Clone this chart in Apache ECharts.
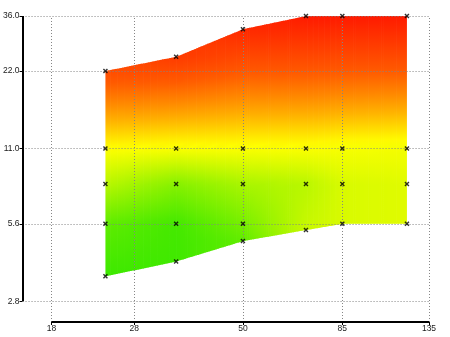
<!DOCTYPE html>
<html>
<head>
<meta charset="utf-8">
<script src="https://cdn.jsdelivr.net/npm/echarts@6/dist/echarts.min.js"></script>
<style>
  html, body { margin: 0; padding: 0; background: #fff; }
  #chart { width: 450px; height: 337px; }
</style>
</head>
<body>
<div id="chart"></div>
<script>
// Focal lengths (mm) at which the lens was measured
const focalLengths = [24, 35, 50, 70, 85, 120];
// Widest and narrowest aperture available at each focal length
const apertureMin = [3.5, 4.0, 4.8, 5.3, 5.6, 5.6];
const apertureMax = [22, 25, 32, 36, 36, 36];
// Score (0 = best, 1 = worst) at each measured stop; null = no reading
const scoreAtMin = [0.00, 0.01, 0.09, 0.36, 0.40, 0.42];
const scoreAt56 = [0.09, 0.02, 0.15, null, null, null];
const scoreAt8 = [0.32, 0.19, 0.28, 0.32, 0.40, 0.42];
const scoreAt11 = [0.50, 0.49, 0.49, 0.49, 0.48, 0.47];
const scoreAtMax = [0.83, 0.89, 0.95, 1.00, 1.00, 1.00];
// Axis tick labels
const focalTicks = [18, 28, 50, 85, 135];
const apertureTicks = [2.8, 5.6, 11.0, 22.0, 36.0];

// Axis extents, and where the detached axis lines sit
const X_MIN = 15, X_MAX = 135, X_AXIS_AT = 15.42;
const Y_MIN = 2.3, Y_MAX = 36, Y_AXIS_AT = 2.3257;

// Colour ramp for the score: green -> yellow -> orange -> red
const ramp = [
  [0.00, [60, 232, 0]],
  [0.50, [255, 255, 0]],
  [0.62, [255, 176, 0]],
  [0.69, [255, 136, 0]],
  [0.78, [255, 90, 0]],
  [1.00, [255, 26, 0]]
];
function scoreColor(v) {
  v = Math.max(0, Math.min(1, v));
  for (let k = 1; k < ramp.length; k++) {
    if (v <= ramp[k][0]) {
      const a = ramp[k - 1], b = ramp[k];
      const t = (v - a[0]) / (b[0] - a[0]);
      const c = a[1].map((ch, j) => Math.round(ch + (b[1][j] - ch) * t));
      return 'rgb(' + c.join(',') + ')';
    }
  }
  return 'rgb(' + ramp[ramp.length - 1][1].join(',') + ')';
}

// Measured points per focal length: [aperture, score]
const columns = focalLengths.map((f, i) => {
  const pts = [[apertureMin[i], scoreAtMin[i]]];
  if (scoreAt56[i] != null) pts.push([5.6, scoreAt56[i]]);
  pts.push([8, scoreAt8[i]], [11, scoreAt11[i]], [apertureMax[i], scoreAtMax[i]]);
  return pts;
});
const profiles = columns.map(pts => pts.map(p => [Math.log(p[0]), p[1]]));

// Score along one focal length, in log-aperture
function profileAt(p, la) {
  if (la <= p[0][0]) return p[0][1];
  for (let k = 1; k < p.length; k++) {
    if (la <= p[k][0]) {
      const t = (la - p[k - 1][0]) / (p[k][0] - p[k - 1][0]);
      return p[k - 1][1] + (p[k][1] - p[k - 1][1]) * t;
    }
  }
  return p[p.length - 1][1];
}

const lerp = (a, b, t) => a + (b - a) * t;

// Shaded band between two neighbouring focal lengths
function renderBand(params, api) {
  const i = params.dataIndex;
  const j = i + 1;
  const lx0 = Math.log(focalLengths[i]), lx1 = Math.log(focalLengths[j]);
  const lb0 = Math.log(apertureMin[i]), lb1 = Math.log(apertureMin[j]);
  const lt0 = Math.log(apertureMax[i]), lt1 = Math.log(apertureMax[j]);
  const strips = 30, stops = 32;
  const children = [];
  for (let k = 0; k < strips; k++) {
    const ua = k / strips, ub = (k + 1) / strips, um = (ua + ub) / 2;
    const pa0 = api.coord([Math.exp(lerp(lx0, lx1, ua)), Math.exp(lerp(lb0, lb1, ua))]);
    const pa1 = api.coord([Math.exp(lerp(lx0, lx1, ua)), Math.exp(lerp(lt0, lt1, ua))]);
    const pb0 = api.coord([Math.exp(lerp(lx0, lx1, ub)), Math.exp(lerp(lb0, lb1, ub))]);
    const pb1 = api.coord([Math.exp(lerp(lx0, lx1, ub)), Math.exp(lerp(lt0, lt1, ub))]);
    const last = (i === focalLengths.length - 2 && k === strips - 1);
    const ext = last ? 0 : 0.7;
    const mb = lerp(lb0, lb1, um), mt = lerp(lt0, lt1, um);
    const xm = Math.exp(lerp(lx0, lx1, um));
    const yb = api.coord([xm, Math.exp(mb)])[1];
    const yt = api.coord([xm, Math.exp(mt)])[1];
    const colorStops = [];
    for (let s = 0; s <= stops; s++) {
      const ly = lerp(mb, mt, s / stops);
      const v = lerp(profileAt(profiles[i], ly), profileAt(profiles[j], ly), um);
      colorStops.push({ offset: s / stops, color: scoreColor(v) });
    }
    const grad = new echarts.graphic.LinearGradient(0, yb, 0, yt, colorStops, true);
    children.push({
      type: 'polygon',
      shape: { points: [pa0, [pb0[0] + ext, pb0[1]], [pb1[0] + ext, pb1[1]], pa1] },
      style: { fill: grad }
    });
  }
  return { type: 'group', children };
}

const bandData = focalLengths.slice(0, -1).map((f, i) => [f, apertureMin[i]]);
const pointData = [];
columns.forEach((pts, i) => pts.forEach(p => pointData.push([focalLengths[i], p[0]])));

const gridLineStyle = { color: '#858585', width: 1, type: [1, 2] };
const axisLineStyle = { color: '#000', width: 2, type: 'solid' };
const labelStyle = { color: '#1a1a1a', fontSize: 8.5, fontFamily: 'Liberation Sans, Arial, sans-serif' };

// Dotted grid, running between the detached axis lines and the far edges
const gridSegments = focalTicks.map(v => [{ coord: [v, Y_AXIS_AT] }, { coord: [v, Y_MAX] }])
  .concat(apertureTicks.map(v => [{ coord: [X_AXIS_AT, v] }, { coord: [X_MAX, v] }]));

const chart = echarts.init(document.getElementById('chart'), null, { renderer: 'canvas' });
chart.setOption({
  animation: false,
  backgroundColor: '#fff',
  grid: { left: 17.13, right: 21, top: 16, bottom: 13.76, containLabel: false },
  xAxis: {
    type: 'log', min: X_MIN, max: X_MAX,
    offset: -1.24,
    axisLine: { show: false },
    splitLine: { show: false },
    minorTick: { show: false },
    axisTick: { show: true, customValues: focalTicks, length: 3, lineStyle: { color: '#000' } },
    axisLabel: Object.assign({ customValues: focalTicks, margin: 2, formatter: v => String(Math.round(v)) }, labelStyle)
  },
  yAxis: {
    type: 'log', min: Y_MIN, max: Y_MAX,
    offset: -5.17,
    axisLine: { show: false },
    splitLine: { show: false },
    minorTick: { show: false },
    axisTick: { show: true, customValues: apertureTicks, length: 3, lineStyle: { color: '#000' } },
    axisLabel: Object.assign({ customValues: apertureTicks, margin: 3, formatter: v => Number(v).toFixed(1) }, labelStyle)
  },
  series: [
    {
      type: 'custom',
      renderItem: renderBand,
      data: bandData,
      encode: { x: 0, y: 1 },
      clip: true,
      silent: true,
      z: 1
    },
    {
      type: 'line',
      data: [],
      silent: true,
      z: 3,
      markLine: {
        silent: true,
        symbol: ['none', 'none'],
        label: { show: false },
        lineStyle: gridLineStyle,
        data: gridSegments
      }
    },
    {
      type: 'line',
      data: [],
      silent: true,
      z: 4,
      markLine: {
        silent: true,
        symbol: ['none', 'none'],
        label: { show: false },
        lineStyle: axisLineStyle,
        data: [
          [{ coord: [X_AXIS_AT, apertureTicks[0]] }, { coord: [X_AXIS_AT, apertureTicks[apertureTicks.length - 1]] }],
          [{ coord: [focalTicks[0], Y_AXIS_AT] }, { coord: [focalTicks[focalTicks.length - 1], Y_AXIS_AT] }]
        ]
      }
    },
    {
      type: 'scatter',
      data: pointData,
      symbol: 'path://M0,2L2,0L5,3L8,0L10,2L7,5L10,8L8,10L5,7L2,10L0,8L3,5Z',
      symbolSize: 5,
      itemStyle: { color: '#000' },
      silent: true,
      z: 5
    }
  ]
});
</script>
</body>
</html>
